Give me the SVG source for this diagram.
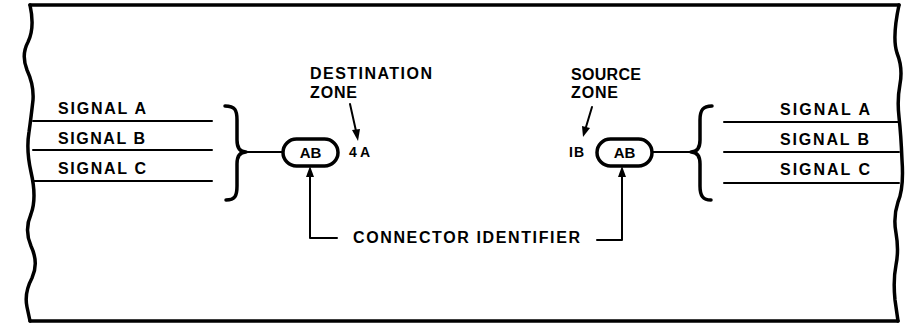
<svg xmlns="http://www.w3.org/2000/svg" width="905" height="325" viewBox="0 0 905 325">
<defs>
<style>
.ln{fill:none;stroke:#000;stroke-linecap:round;stroke-linejoin:round}
.b{stroke-width:3.5}
.s{stroke-width:2}
.t{font-family:"Liberation Sans",Arial,sans-serif;font-weight:bold;fill:#000}
.t16{font-size:16px}
.t15{font-size:15px}
.t14{font-size:14px}
</style>
</defs>
<rect width="905" height="325" fill="#fff"/>
<g id="border">
<path class="ln b" d="M30,5 L899,5"/>
<path class="ln b" d="M30,321 L898,321"/>
<path class="ln b" d="M30,5 Q35,28 28,42 Q21,55 27,70 Q34,85 33,100 Q31,118 29,132 Q26,150 31,172 Q37,198 31,214 Q24,230 31,246 Q39,263 32,278 Q24,293 27,307 L30,321"/>
<path class="ln b" d="M899,5 Q892,38 897,53 Q903,68 900,84 Q897,100 899,117 Q901,135 902,160 Q904,188 898,202 Q893,217 896,233 Q899,250 896,265 Q893,280 895,300 L898,321"/>
</g>
<g id="left-signals">
<path class="ln s" d="M33,121 L212,121 M33,150 L212,150 M33,181 L212,181"/>
<text class="t t16" x="58" y="114" textLength="88" lengthAdjust="spacing">SIGNAL A</text>
<text class="t t16" x="58" y="144" textLength="87" lengthAdjust="spacing">SIGNAL B</text>
<text class="t t16" x="58" y="174" textLength="88" lengthAdjust="spacing">SIGNAL C</text>
</g>
<g id="right-signals">
<path class="ln s" d="M724,122 L899,122 M724,152 L899,152 M724,183 L899,183"/>
<text class="t t16" x="780" y="115" textLength="90" lengthAdjust="spacing">SIGNAL A</text>
<text class="t t16" x="780" y="145" textLength="89" lengthAdjust="spacing">SIGNAL B</text>
<text class="t t16" x="780" y="175" textLength="90" lengthAdjust="spacing">SIGNAL C</text>
</g>
<g id="left-brace">
<path class="ln b" d="M225,106 C235,106 237,110 237,120 L237,140 C237,148 240,152 246,152 C240,152 237,156 237,164 L237,186 C237,196 235,200 226,200"/>
</g>
<g id="right-brace">
<path class="ln b" d="M712,106 C703,106 700,110 700,120 L700,140 C700,148 697,152 691,152 C697,152 700,156 700,164 L700,186 C700,196 703,200 711,200"/>
</g>
<g id="left-connector">
<rect class="ln b" x="283" y="139" width="55" height="27" rx="13.5"/>
<text class="t t15" x="310.5" y="158" text-anchor="middle">AB</text>
</g>
<g id="right-connector">
<rect class="ln b" x="597" y="139" width="55" height="27" rx="13.5"/>
<text class="t t15" x="624.5" y="158" text-anchor="middle">AB</text>
</g>
<g id="destination-zone">
<text class="t t16" x="310" y="79" textLength="122" lengthAdjust="spacing">DESTINATION</text>
<text class="t t16" x="310" y="98" textLength="47" lengthAdjust="spacing">ZONE</text>
<text class="t t14" x="349" y="157" textLength="21" lengthAdjust="spacing">4A</text>
</g>
<g id="source-zone">
<text class="t t16" x="571" y="80" textLength="70" lengthAdjust="spacing">SOURCE</text>
<text class="t t16" x="571" y="98" textLength="47" lengthAdjust="spacing">ZONE</text>
<text class="t t14" x="569" y="157" textLength="15" lengthAdjust="spacing">IB</text>
</g>
<g id="connector-identifier">
<text class="t t16" x="353" y="243" textLength="227" lengthAdjust="spacing">CONNECTOR IDENTIFIER</text>
</g>
<g id="connectors">
<path class="ln s" d="M246,152 L283,152"/>
<path class="ln s" d="M652,152 L691,152"/>
<path class="ln s" d="M310,175 L310,238 L337,238"/>
<polygon points="310,166 306,177 314,177" fill="#000"/>
<path class="ln s" d="M597,240 L622,240 L622,175"/>
<polygon points="622,166 618,177 626,177" fill="#000"/>
<path class="ln s" d="M350,104 L356,131"/>
<polygon points="358,141 352,130 360,129" fill="#000"/>
<path class="ln s" d="M592,107 L586,127"/>
<polygon points="583,137 582,126 590,128" fill="#000"/>
</g>
</svg>
